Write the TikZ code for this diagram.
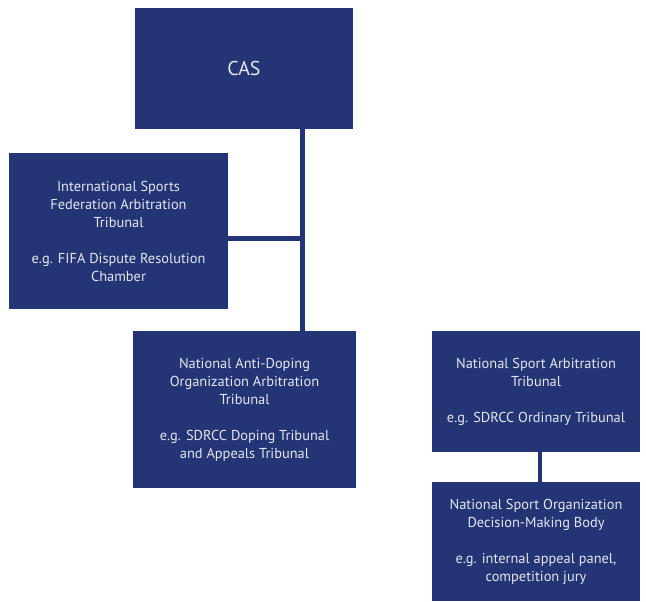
\documentclass[tikz,border=0pt]{standalone}
\usepackage{fontspec}
\setmainfont{PT Sans}
\usepackage{tikz}
\usetikzlibrary{positioning}

\definecolor{casblue}{HTML}{233574}
\definecolor{boxtext}{HTML}{E4E6EE}

\begin{document}
\begin{tikzpicture}[x=1pt,y=-1pt]

    \tikzstyle{tribunal}=[fill=casblue, text=boxtext, inner sep=0pt, outer sep=0pt, align=center,
      font=\fontsize{14.4}{18}\selectfont]
    \tikzstyle{link}=[draw=casblue, line width=5pt]

    \useasboundingbox (0,0) rectangle (646,602);

    \node[tribunal, minimum width=218pt, minimum height=121pt,
      font=\fontsize{20}{24}\selectfont] (cas) at (244,68.5) {CAS};
    \node[tribunal, minimum width=219pt, minimum height=156pt] (isf) at (118.5,231)
      {International Sports\\Federation Arbitration\\Tribunal\\[18pt]e.g. FIFA Dispute Resolution\\Chamber};
    \node[tribunal, minimum width=223pt, minimum height=157pt] (nado) at (244.5,409.5)
      {National Anti-Doping\\Organization Arbitration\\Tribunal\\[18pt]e.g. SDRCC Doping Tribunal\\and Appeals Tribunal};
    \node[tribunal, minimum width=208pt, minimum height=121pt] (nsat) at (536,391.5)
      {National Sport Arbitration\\Tribunal\\[18pt]e.g. SDRCC Ordinary Tribunal};
    \node[tribunal, minimum width=208pt, minimum height=119pt] (nso) at (536,541.5)
      {National Sport Organization\\Decision-Making Body\\[18pt]e.g. internal appeal panel,\\competition jury};

    \coordinate (trunk) at (302,238);

    \draw[link] (cas.south -| trunk) -- (nado.north -| trunk);
    \draw[link] (isf.east |- trunk) -- (trunk);
    \draw[link, line width=4pt] ([xshift=4pt]nsat.south) -- ([xshift=4pt]nso.north);
\end{tikzpicture}
\end{document}
